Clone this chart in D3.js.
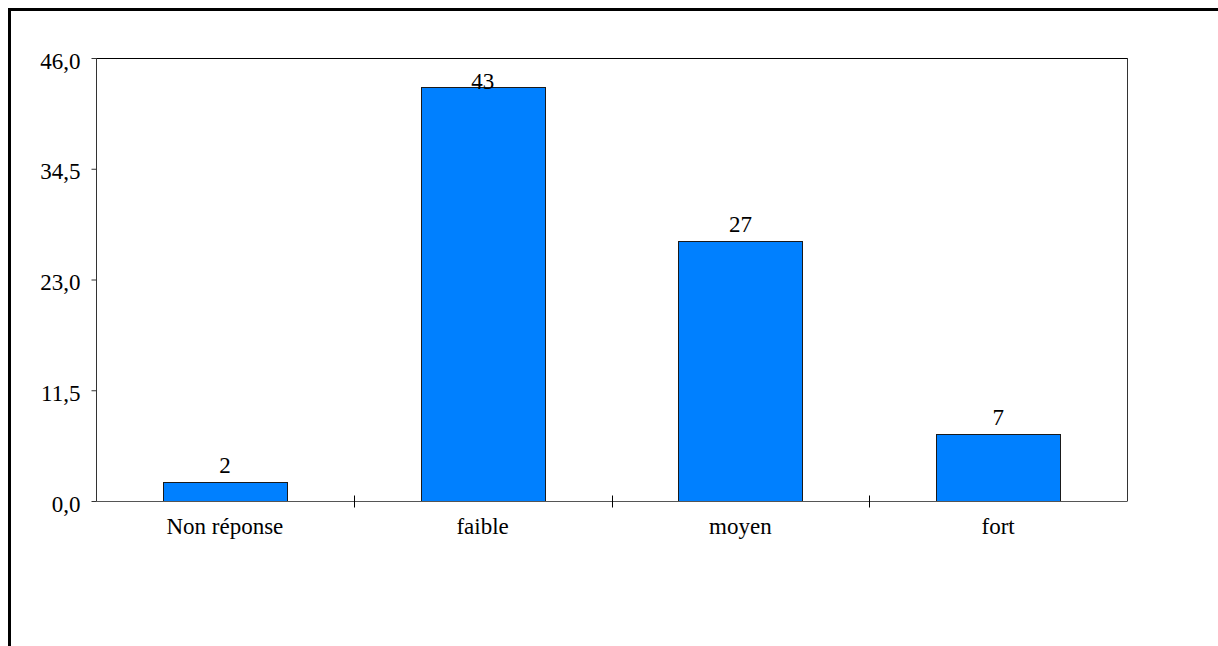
<!DOCTYPE html>
<html><head><meta charset="utf-8">
<script src="https://cdn.jsdelivr.net/npm/d3@7"></script>
<style>html,body{margin:0;padding:0;background:#fff;overflow:hidden;}svg{display:block;}
svg text{font-family:"Liberation Serif","Times New Roman",serif !important;font-size:23px !important;fill:#000;}</style>
</head><body>
<svg id="c" width="1218" height="646"></svg>
<script>
const categories = ["Non réponse", "faible", "moyen", "fort"];
const values = [2, 43, 27, 7];
const yTicks = [0, 11.5, 23, 34.5, 46];

const svg = d3.select("#c");
const L = 96, R = 1127, T = 58, B = 501;

// outer frame (right and bottom edges lie outside the view)
svg.append("path").attr("d", "M9.5,700V9.5H1300")
  .attr("fill", "none").attr("stroke", "#000").attr("stroke-width", 3);

const x = d3.scaleBand().domain(categories).range([L, R]).paddingInner(0).paddingOuter(0);
const y = d3.scaleLinear().domain([0, 46]).range([B, T]);

// plot frame top/right
svg.append("line").attr("x1", L).attr("x2", R + 0.5).attr("y1", T + 0.5).attr("y2", T + 0.5).attr("stroke", "#000");
svg.append("line").attr("x1", R + 0.5).attr("x2", R + 0.5).attr("y1", T).attr("y2", B + 0.5).attr("stroke", "#333");

// bars
const bw = x.bandwidth() * 0.482;
svg.selectAll("rect.bar").data(values).enter().append("rect").attr("class", "bar")
  .attr("x", (d, i) => Math.round(x(categories[i]) + x.bandwidth() / 2 - bw / 2) + 0.5)
  .attr("y", d => Math.round(y(d)) + 0.5)
  .attr("width", Math.round(bw))
  .attr("height", d => B - Math.round(y(d)))
  .attr("fill", "#0080ff").attr("stroke", "#1a1a1a").attr("stroke-width", 1);

// value labels
svg.selectAll("text.val").data(values).enter().append("text").attr("class", "val")
  .attr("x", (d, i) => x(categories[i]) + x.bandwidth() / 2)
  .attr("y", d => Math.max(y(d) - 8.5, y(46) + 31))
  .attr("text-anchor", "middle")
  .text(d => d);

// y axis
const yAxis = d3.axisLeft(y).tickValues(yTicks).tickSize(5).tickPadding(11)
  .tickFormat(d => d3.format(".1f")(d).replace(".", ","));
const gy = svg.append("g").attr("transform", `translate(${L + 0.5},0)`).call(yAxis);
gy.select(".domain").attr("stroke", "#333").attr("d", `M0,${T}V${B}`);
gy.selectAll(".tick line").attr("stroke", "#333");
gy.selectAll(".tick text").attr("dy", "10px");

// x axis
const gx = svg.append("g").attr("transform", `translate(0,${B + 0.5})`).call(d3.axisBottom(x).tickSize(0).tickPadding(16));
gx.select(".domain").attr("stroke", "#555").attr("d", `M${L},0H${R}`);
// category boundary ticks
const bounds = categories.slice(1).map(c => x(c));
gx.selectAll("line.sep").data(bounds).enter().append("line").attr("class", "sep")
  .attr("x1", d => Math.round(d) + 0.5).attr("x2", d => Math.round(d) + 0.5)
  .attr("y1", -6).attr("y2", 6).attr("stroke", "#000");
</script>
</body></html>
